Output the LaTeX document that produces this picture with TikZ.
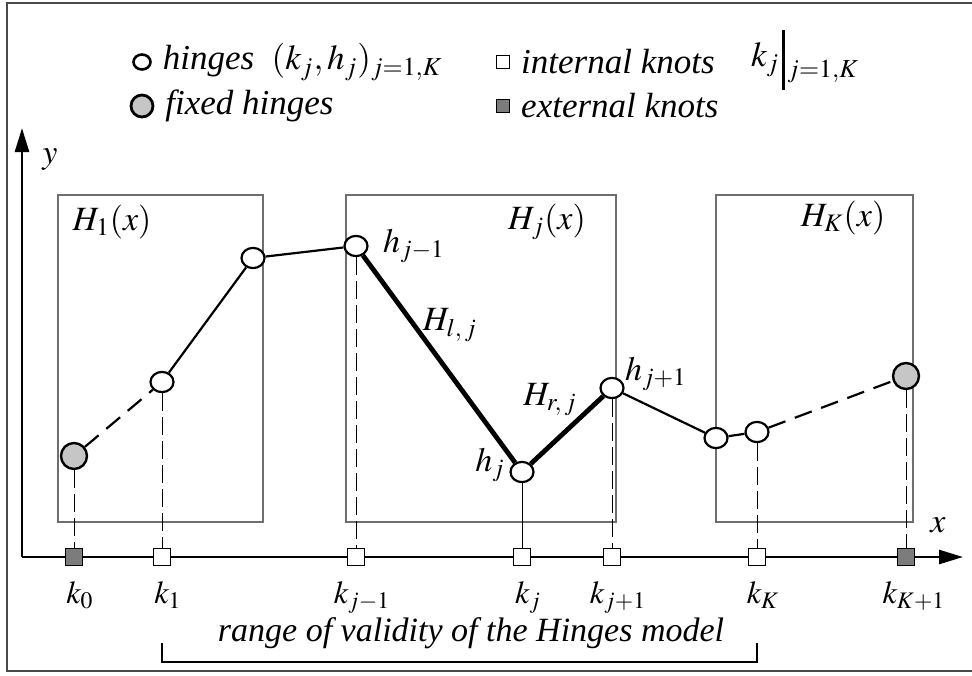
\documentclass[tikz,border=0pt]{standalone}
\usepackage{mathptmx}
\usepackage{fontspec}
\setmainfont{Liberation Serif}
\usetikzlibrary{arrows.meta, positioning, shapes.geometric}
\definecolor{cframe}{HTML}{4A4A4A}
\definecolor{cbox}{HTML}{6E6E6E}
\definecolor{cfixed}{HTML}{C6C6C6}
\definecolor{cext}{HTML}{7C7C7C}
\tikzset{
  every picture/.style={line width=1pt},
  hinge/.style={ellipse, draw, fill=white, line width=1.1pt, minimum width=#1, minimum height=#1*0.88, inner sep=0pt},
  hinge/.default=11.5pt,
  fixed/.style={circle, draw, fill=cfixed, line width=1.2pt, minimum size=#1, inner sep=0pt},
  fixed/.default=13pt,
  iknot/.style={rectangle, draw, fill=white, line width=0.7pt, minimum size=#1, inner sep=0pt},
  iknot/.default=8.5pt,
  eknot/.style={iknot=#1, fill=cext},
  eknot/.default=8.5pt,
  axis/.style={-{Triangle[length=12pt, width=7pt]}, line width=1.3pt},
  win/.style={draw=cbox, line width=0.7pt},
  link/.style={line width=1.1pt},
  linkd/.style={link, dash pattern=on 9pt off 5pt},
  bold/.style={line width=2.4pt},
  drop/.style={line width=0.5pt, dash pattern=on 9pt off 3pt},
  lbl/.style={font=\fontsize{17}{20}\selectfont},
  klbl/.style={font=\fontsize{16}{19}\selectfont},
  legend/.style={font=\fontsize{17.5}{20}\selectfont\itshape, anchor=west, inner sep=0pt},
}
\begin{document}
\begin{tikzpicture}[x=0.5pt, y=-0.5pt]
  \useasboundingbox (0,0) rectangle (972,675);
  \draw[cframe, line width=1.1pt] (972,3) -- (7,3) -- (7,671) -- (972,671);

  \node[hinge=8.5pt, line width=1.3pt] (lh) at (142,62) {};
  \node[legend, right=5pt of lh] (lht) {hinges\ \ $(k_j,h_j)_{j=1,K}$};
  \node[fixed=11pt, line width=1.4pt] (lf) at (142,106) {};
  \node[legend, right=5pt of lf] (lft) {fixed hinges};
  \node[iknot=6.5pt] (li) at (503,62) {};
  \node[legend, right=5pt of li] (lit) {internal knots};
  \node[legend] (lkj) at (750,60) {$k_j$};
  \draw[line width=1.4pt] ([xshift=1.5pt]lkj.east |- 0,30) -- ([xshift=1.5pt]lkj.east |- 0,90);
  \node[legend, right=3pt of lkj, yshift=-6pt] (lks) {$\scriptstyle j=1,K$};
  \node[eknot=6.5pt] (le) at (503,106) {};
  \node[legend, right=5pt of le] (let) {external knots};

  \draw[win] (58,195) rectangle (263,522);
  \draw[win] (346,195) rectangle (616,522);
  \draw[win] (716,195) rectangle (913,522);
  \node[lbl] (w1) at (112,222) {$H_1(x)$};
  \node[lbl] (wj) at (547,222) {$H_j(x)$};
  \node[lbl] (wk) at (843,218) {$H_K(x)$};

  \coordinate (O) at (22,557);
  \draw[axis] (O) -- (22,128);
  \draw[axis] (O) -- (963,557);
  \node[lbl] (ylab) at (50,160) {$y$};
  \node[lbl] (xlab) at (938,525) {$x$};

  \foreach \n/\x/\t in {1/162/1, 2/356/{j-1}, 3/522/j, 4/612/{j+1}, 5/757/K} {
    \node[iknot] (k\n) at (\x,557) {};
    \node[klbl, below=4pt of k\n, xshift=3pt] (kl\n) {$k_{\t}$};
  }
  \node[eknot] (k0) at (74,557) {};
  \node[klbl, below=4pt of k0, xshift=3pt] (kl0) {$k_0$};
  \node[eknot] (k6) at (906,557) {};
  \node[klbl, below=4pt of k6, xshift=4pt] (kl6) {$k_{K+1}$};

  \node[fixed] (f0) at (74,456) {};
  \node[fixed] (f1) at (906,376) {};
  \foreach \n/\x/\y in {1/162/382, 2/253/258, 3/356/246, 4/522/472, 5/612/388, 6/716/438, 7/757/432}
    \node[hinge] (h\n) at (\x,\y) {};

  \draw[drop] (f0) -- (k0);
  \draw[drop] (h1) -- (k1);
  \draw[drop] (h3) -- (k2);
  \draw[line width=0.5pt] (h4) -- (k3);
  \draw[drop] (h5) -- (k4);
  \draw[drop] (h7) -- (k5);
  \draw[drop] (f1) -- (k6);

  \draw[linkd] (f0) -- (h1);
  \draw[link] (h1) -- (h2);
  \draw[link] (h2) -- (h3);
  \draw[bold] (h3) -- (h4);
  \draw[bold] (h4) -- (h5);
  \draw[link] (h5) -- (h6);
  \draw[link] (h6) -- (h7);
  \draw[linkd] (h7) -- (f1);

  \node[lbl] (hl3) at (414,246) {$h_{j-1}$};
  \node[lbl] (hl4) at (490,465) {$h_j$};
  \node[lbl] (hl5) at (656,374) {$h_{j+1}$};
  \node[lbl] (hlj) at (450,325) {$H_{l,\,j}$};
  \node[lbl] (hrj) at (550,400) {$H_{r,\,j}$};

  \draw[line width=1.3pt] (k1 |- 0,643) -- (k1 |- 0,662) -- (k5 |- 0,662) -- (k5 |- 0,643);
  \node[font=\fontsize{17}{19}\selectfont\itshape, inner sep=1pt] (rng) at (471,633) {range of validity of the Hinges model};
\end{tikzpicture}
\end{document}
